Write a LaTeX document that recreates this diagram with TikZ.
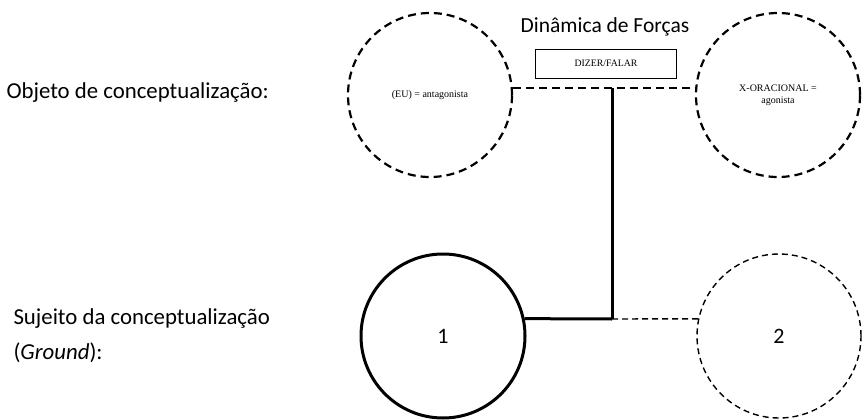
\documentclass[tikz,border=0pt]{standalone}
\usepackage{fontspec}
\setmainfont{Carlito}
\newfontfamily\tnr{Liberation Serif}
\usetikzlibrary{calc}
\begin{document}
\begin{tikzpicture}[x=1pt,y=-1pt,
  thickdash/.style={draw,line width=2.2pt,dash pattern=on 8pt off 5pt},
  thindash/.style={draw,line width=1.4pt,dash pattern=on 6pt off 4pt},
  circ/.style={circle,minimum size=164pt,inner sep=0pt},
  lbl/.style={font=\fontsize{22.8}{35}\selectfont,anchor=west,align=left},
  small/.style={font=\tnr\fontsize{10}{12}\selectfont,align=center}]
\useasboundingbox (0,0) rectangle (862,420);
\node[circ,thickdash] (eu) at (430,95) {};
\node[small] at (eu.center) {(EU) = antagonista};
\node[circ,thickdash] (xo) at (778,95) {};
\node[small] at (xo.center) {X-ORACIONAL =\\agonista};
\node[circ,draw,line width=3pt] (g1) at (443,336) {};
\node[font=\fontsize{22}{26}\selectfont] at (g1.center) {1};
\node[circ,thindash] (g2) at (779,336) {};
\node[font=\fontsize{22}{26}\selectfont] at (g2.center) {2};
\node[font=\fontsize{21.5}{25}\selectfont] (title) at (605,27) {Dinâmica de Forças};
\node[draw,line width=0.6pt,minimum width=141pt,minimum height=29pt,inner sep=0pt,font=\tnr\fontsize{9.8}{11}\selectfont] (verb) at (606,63.5) {DIZER/FALAR};
\node[lbl] (obj) at (3,93) {Objeto de conceptualização:};
\node[lbl] (suj) at (10,336) {Sujeito da conceptualização\\(\textit{Ground}):};
\coordinate (j1) at (612,88);
\coordinate (j2) at (612,319);
\draw[thickdash] (eu.5) -- (xo.175);
\draw[line width=3pt] (j1) -- (j2);
\draw[line width=3pt] (g1.12) -- (j2);
\draw[thindash] (j2) -- (g2.168);
\end{tikzpicture}
\end{document}
